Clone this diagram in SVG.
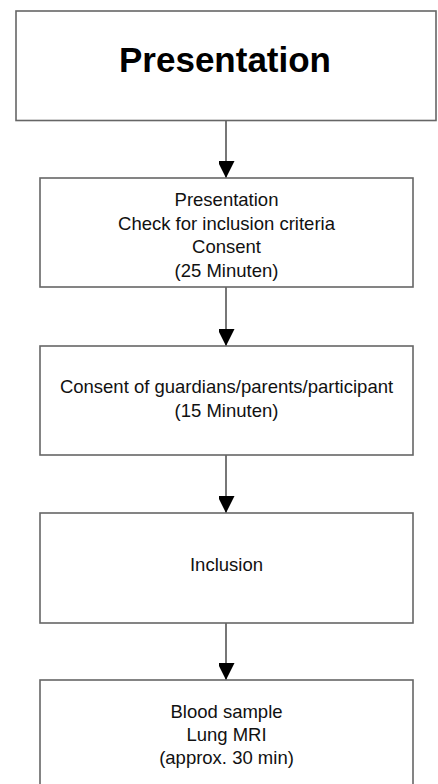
<svg xmlns="http://www.w3.org/2000/svg" width="438" height="784" viewBox="0 0 438 784">
<style>
.box{fill:#fff;stroke:#666;stroke-width:1.6}
.t{font-family:"Liberation Sans",Arial,sans-serif;font-size:18.5px;fill:#111;text-anchor:middle}
.title{font-family:"Liberation Sans",Arial,sans-serif;font-size:35px;font-weight:bold;fill:#000;text-anchor:middle}
.conn{stroke:#555;stroke-width:1.6;fill:none}
</style>
<defs>
<marker id="ah" markerUnits="userSpaceOnUse" markerWidth="18" markerHeight="16" refX="17" refY="8.5" orient="auto">
<path d="M0,0 L17,8.5 L0,17 Z" fill="#000"/>
</marker>
</defs>
<rect width="438" height="784" fill="#fff"/>
<g id="connectors">
<line class="conn" x1="226" y1="121" x2="226" y2="178" marker-end="url(#ah)"/>
<line class="conn" x1="226" y1="287" x2="226" y2="346" marker-end="url(#ah)"/>
<line class="conn" x1="226" y1="455" x2="226" y2="513" marker-end="url(#ah)"/>
<line class="conn" x1="226" y1="623" x2="226" y2="680" marker-end="url(#ah)"/>
</g>
<g id="n1">
<rect class="box" x="16" y="11" width="420" height="109.5"/>
<text class="title" x="225" y="72">Presentation</text>
</g>
<g id="n2">
<rect class="box" x="40" y="178" width="373" height="109"/>
<text class="t" x="226.5" y="206">Presentation</text>
<text class="t" x="226.5" y="229.5">Check for inclusion criteria</text>
<text class="t" x="226.5" y="253">Consent</text>
<text class="t" x="226.5" y="276.5">(25 Minuten)</text>
</g>
<g id="n3">
<rect class="box" x="40" y="346" width="373" height="109"/>
<text class="t" x="226.5" y="393">Consent of guardians/parents/participant</text>
<text class="t" x="226.5" y="416.5">(15 Minuten)</text>
</g>
<g id="n4">
<rect class="box" x="40" y="513" width="373" height="110"/>
<text class="t" x="226.5" y="571">Inclusion</text>
</g>
<g id="n5">
<rect class="box" x="40" y="680" width="373" height="120"/>
<text class="t" x="226.5" y="718">Blood sample</text>
<text class="t" x="226.5" y="741">Lung MRI</text>
<text class="t" x="226.5" y="764">(approx. 30 min)</text>
</g>
</svg>
